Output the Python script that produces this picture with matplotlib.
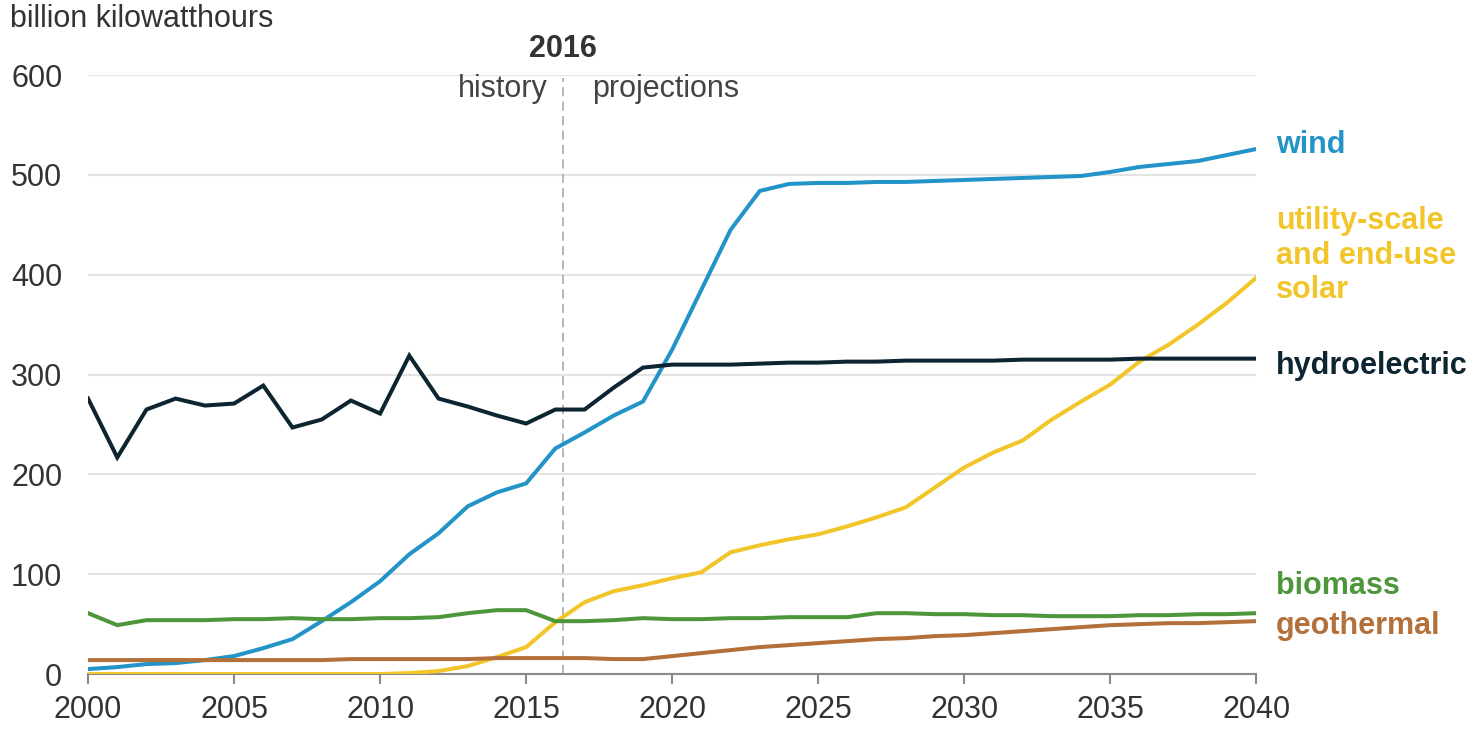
import matplotlib
matplotlib.use("Agg")
import matplotlib.pyplot as plt
import numpy as np

plt.rcParams['font.family'] = ['Liberation Sans', 'DejaVu Sans']

years = np.arange(2000, 2041)

wind = [5, 7, 10, 11, 14, 18, 26, 35, 53, 72, 93, 120, 141, 168, 182, 191,
        226, 242, 259, 273, 325, 385, 445, 484, 491, 492, 492, 493, 493, 494,
        495, 496, 497, 498, 499, 503, 508, 511, 514, 520, 526]
solar = [0, 0, 0, 0, 0, 0, 0, 0, 0, 0, 0, 1, 3, 8, 17, 27,
         52, 72, 83, 89, 96, 102, 122, 129, 135, 140, 148, 157, 167, 187,
         207, 222, 234, 255, 273, 290, 313, 330, 350, 372, 397]
hydro = [276, 217, 265, 276, 269, 271, 289, 247, 255, 274, 261, 319, 276, 268, 259, 251,
         265, 265, 287, 307, 310, 310, 310, 311, 312, 312, 313, 313, 314, 314,
         314, 314, 315, 315, 315, 315, 316, 316, 316, 316, 316]
biomass = [61, 49, 54, 54, 54, 55, 55, 56, 55, 55, 56, 56, 57, 61, 64, 64,
           53, 53, 54, 56, 55, 55, 56, 56, 57, 57, 57, 61, 61, 60,
           60, 59, 59, 58, 58, 58, 59, 59, 60, 60, 61]
geothermal = [14, 14, 14, 14, 14, 14, 14, 14, 14, 15, 15, 15, 15, 15, 16, 16,
              16, 16, 15, 15, 18, 21, 24, 27, 29, 31, 33, 35, 36, 38,
              39, 41, 43, 45, 47, 49, 50, 51, 51, 52, 53]

series = [
    ("wind", wind, "#2394c7", 530),
    ("utility-scale\nand end-use\nsolar", solar, "#f2c52a", 419),
    ("hydroelectric", hydro, "#0d2431", 309),
    ("biomass", biomass, "#4e963c", 88),
    ("geothermal", geothermal, "#b4703a", 48),
]

fig = plt.figure(figsize=(14.75, 7.44), dpi=100)
ax = fig.add_axes([0.0597, 0.094, 0.792, 0.805])

for name, vals, col, ly in series:
    ax.plot(years, vals, color=col, lw=2.9, solid_joinstyle='miter', zorder=3)
    ax.text(2040.68, ly, name, color=col, fontsize=22, fontweight='bold',
            va='center', ha='left', linespacing=1.2, clip_on=False)

ax.set_xlim(2000, 2040)
ax.set_ylim(0, 600)
ax.set_xticks(range(2000, 2041, 5))
ax.set_yticks(range(0, 601, 100))
ax.yaxis.grid(True, color='#e3e3e3', lw=1.5)
ax.set_axisbelow(True)
for s in ['top', 'right', 'left']:
    ax.spines[s].set_visible(False)
ax.spines['bottom'].set_color('#8a8a8a')
ax.spines['bottom'].set_linewidth(1.5)
ax.tick_params(axis='x', length=7, width=1.5, color='#8a8a8a', pad=8,
               labelsize=22, labelcolor='#333333')
ax.tick_params(axis='y', length=0, pad=18.5, labelsize=22, labelcolor='#333333')

# history / projections divider
ax.plot([2016.25, 2016.25], [0, 597], color='#b0b0b0', lw=1.3, ls=(0, (5, 3)),
        clip_on=False, zorder=2)
ax.text(2016.25, 626, "2016", fontsize=22, fontweight='bold', color='#333333',
        ha='center', va='center', clip_on=False)
ax.text(2015.75, 586, "history", fontsize=22, color='#444444',
        ha='right', va='center', clip_on=False)
ax.text(2017.26, 586, "projections", fontsize=22, color='#444444',
        ha='left', va='center', clip_on=False)

fig.text(0.007, 0.975, "billion kilowatthours", fontsize=22, color='#333333',
         ha='left', va='center')

fig.savefig("out.png", dpi=100, facecolor='white')
